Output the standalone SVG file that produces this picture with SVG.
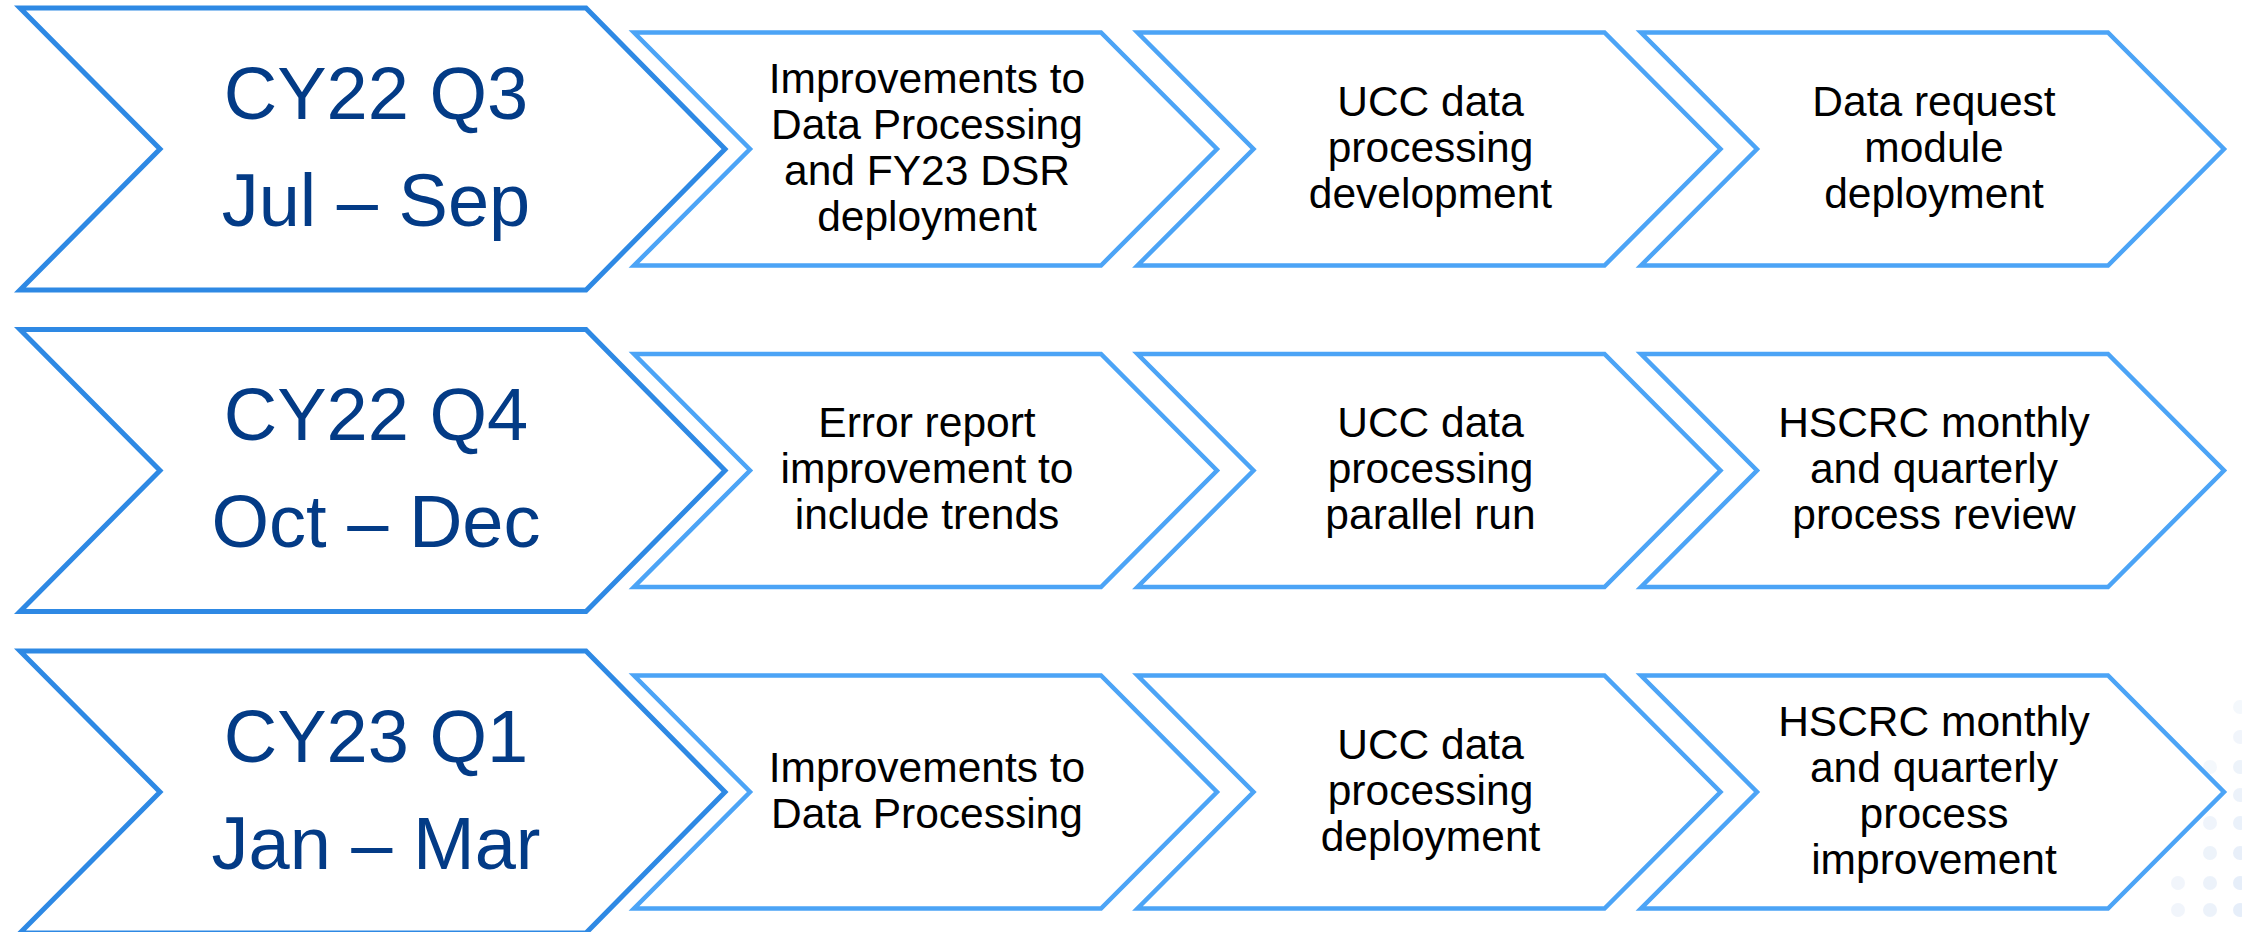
<svg xmlns="http://www.w3.org/2000/svg" width="2242" height="932" viewBox="0 0 2242 932">
<style>
.big{fill:#fff;stroke:#2E89E4;stroke-width:5;stroke-linejoin:miter}
.sm{fill:#fff;stroke:#4CA4F6;stroke-width:4.5;stroke-linejoin:miter}
.qt{font-family:"Liberation Sans",Arial,sans-serif;font-size:74px;fill:#033B86;text-anchor:middle}
.tx{font-family:"Liberation Sans",Arial,sans-serif;font-size:42.5px;fill:#000;text-anchor:middle}
.dot{fill:#DCE7F6}
</style>
<rect width="2242" height="932" fill="#fff"/>
<g id="bg-dots">
<circle class="dot" cx="2240" cy="707" r="7" opacity="0.3"/>
<circle class="dot" cx="2240" cy="737" r="7" opacity="0.4"/>
<circle class="dot" cx="2240" cy="767" r="7" opacity="0.5"/>
<circle class="dot" cx="2210" cy="767" r="7" opacity="0.3"/>
<circle class="dot" cx="2240" cy="795" r="7" opacity="0.55"/>
<circle class="dot" cx="2210" cy="795" r="7" opacity="0.35"/>
<circle class="dot" cx="2240" cy="823" r="7" opacity="0.6"/>
<circle class="dot" cx="2210" cy="823" r="7" opacity="0.45"/>
<circle class="dot" cx="2240" cy="853" r="7" opacity="0.65"/>
<circle class="dot" cx="2210" cy="853" r="7" opacity="0.5"/>
<circle class="dot" cx="2240" cy="883" r="7" opacity="0.7"/>
<circle class="dot" cx="2210" cy="883" r="7" opacity="0.55"/>
<circle class="dot" cx="2178" cy="883" r="7" opacity="0.4"/>
<circle class="dot" cx="2240" cy="910" r="7" opacity="0.7"/>
<circle class="dot" cx="2210" cy="910" r="7" opacity="0.55"/>
<circle class="dot" cx="2178" cy="910" r="7" opacity="0.4"/>
</g>

<!-- Row 1 (mid 149) -->
<g id="q-cy22q3">
<polygon class="big" points="20,8 586,8 725,149 586,290 20,290 160,149"/>
<text class="qt" x="376" y="118.5">CY22 Q3</text>
<text class="qt" x="376" y="225.5">Jul – Sep</text>
</g>
<g id="r1c1">
<polygon class="sm" points="634,32.5 1101,32.5 1217,149 1101,265.5 634,265.5 750,149"/>
<text class="tx" x="927"><tspan x="927" y="92.5">Improvements to</tspan><tspan x="927" y="138.5">Data Processing</tspan><tspan x="927" y="184.5">and FY23 DSR</tspan><tspan x="927" y="230.5">deployment</tspan></text>
</g>
<g id="r1c2">
<polygon class="sm" points="1137.5,32.5 1604.5,32.5 1720.5,149 1604.5,265.5 1137.5,265.5 1253.5,149"/>
<text class="tx" x="1430.5"><tspan x="1430.5" y="115.5">UCC data</tspan><tspan x="1430.5" y="161.5">processing</tspan><tspan x="1430.5" y="207.5">development</tspan></text>
</g>
<g id="r1c3">
<polygon class="sm" points="1641,32.5 2108,32.5 2224,149 2108,265.5 1641,265.5 1757,149"/>
<text class="tx" x="1934"><tspan x="1934" y="115.5">Data request</tspan><tspan x="1934" y="161.5">module</tspan><tspan x="1934" y="207.5">deployment</tspan></text>
</g>

<!-- Row 2 (mid 470.5) -->
<g id="q-cy22q4">
<polygon class="big" points="20,329.5 586,329.5 725,470.5 586,611.5 20,611.5 160,470.5"/>
<text class="qt" x="376" y="440">CY22 Q4</text>
<text class="qt" x="376" y="547">Oct – Dec</text>
</g>
<g id="r2c1">
<polygon class="sm" points="634,354 1101,354 1217,470.5 1101,587 634,587 750,470.5"/>
<text class="tx" x="927"><tspan x="927" y="437">Error report</tspan><tspan x="927" y="483">improvement to</tspan><tspan x="927" y="529">include trends</tspan></text>
</g>
<g id="r2c2">
<polygon class="sm" points="1137.5,354 1604.5,354 1720.5,470.5 1604.5,587 1137.5,587 1253.5,470.5"/>
<text class="tx" x="1430.5"><tspan x="1430.5" y="437">UCC data</tspan><tspan x="1430.5" y="483">processing</tspan><tspan x="1430.5" y="529">parallel run</tspan></text>
</g>
<g id="r2c3">
<polygon class="sm" points="1641,354 2108,354 2224,470.5 2108,587 1641,587 1757,470.5"/>
<text class="tx" x="1934"><tspan x="1934" y="437">HSCRC monthly</tspan><tspan x="1934" y="483">and quarterly</tspan><tspan x="1934" y="529">process review</tspan></text>
</g>

<!-- Row 3 (mid 792) -->
<g id="q-cy23q1">
<polygon class="big" points="20,651 586,651 725,792 586,933 20,933 160,792"/>
<text class="qt" x="376" y="761.5">CY23 Q1</text>
<text class="qt" x="376" y="868.5">Jan – Mar</text>
</g>
<g id="r3c1">
<polygon class="sm" points="634,675.5 1101,675.5 1217,792 1101,908.5 634,908.5 750,792"/>
<text class="tx" x="927"><tspan x="927" y="781.5">Improvements to</tspan><tspan x="927" y="827.5">Data Processing</tspan></text>
</g>
<g id="r3c2">
<polygon class="sm" points="1137.5,675.5 1604.5,675.5 1720.5,792 1604.5,908.5 1137.5,908.5 1253.5,792"/>
<text class="tx" x="1430.5"><tspan x="1430.5" y="758.5">UCC data</tspan><tspan x="1430.5" y="804.5">processing</tspan><tspan x="1430.5" y="850.5">deployment</tspan></text>
</g>
<g id="r3c3">
<polygon class="sm" points="1641,675.5 2108,675.5 2224,792 2108,908.5 1641,908.5 1757,792"/>
<text class="tx" x="1934"><tspan x="1934" y="735.5">HSCRC monthly</tspan><tspan x="1934" y="781.5">and quarterly</tspan><tspan x="1934" y="827.5">process</tspan><tspan x="1934" y="873.5">improvement</tspan></text>
</g>
</svg>
